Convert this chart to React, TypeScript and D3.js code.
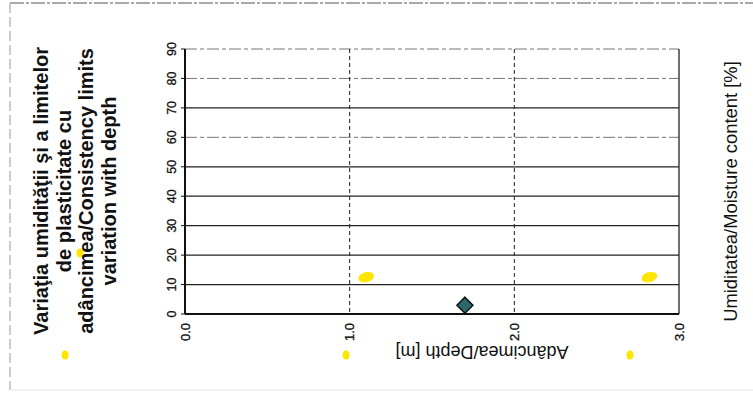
import React, { useEffect, useRef } from 'react';
import * as d3 from 'd3';

// depth [m] vs moisture content [%]
const depthTicks = [0, 1, 2, 3];
const moistureTicks = [0, 10, 20, 30, 40, 50, 60, 70, 80, 90];
const moistureDepth = [1.7];
const moistureValues = [3];
const limitDepth = [1.1, 2.82];
const limitValues = [12.5, 12.5];

const titleLines = [
  'Variaţia umidităţii şi a limitelor',
  'de plasticitate cu',
  'adâncimea/Consistency limits',
  'variation with depth',
];

export default function App() {
  const svgRef = useRef<SVGSVGElement | null>(null);

  useEffect(() => {
    if (!svgRef.current) return;
    const svg = d3.select(svgRef.current);
    svg.selectAll('*').remove();

    const width = 753;
    const height = 394;
    const margin = { top: 49, right: 74, bottom: 80, left: 185 };
    const font = 'Arial, "Liberation Sans", sans-serif';

    svg.append('rect').attr('width', width).attr('height', height).attr('fill', '#fff');

    // scanned page frame
    svg.append('line').attr('x1', 10).attr('x2', width).attr('y1', 3).attr('y2', 3)
      .attr('stroke', '#555').attr('stroke-width', 1.2).attr('stroke-dasharray', '14 2 3 2');
    svg.append('line').attr('x1', 10).attr('x2', 10).attr('y1', 3).attr('y2', 390)
      .attr('stroke', '#999').attr('stroke-width', 1).attr('stroke-dasharray', '10 4');
    svg.append('line').attr('x1', 10).attr('x2', width).attr('y1', 390).attr('y2', 390)
      .attr('stroke', '#e4e4e4').attr('stroke-width', 1);

    const x = d3.scaleLinear().domain([0, 3]).range([margin.left, width - margin.right]);
    const y = d3.scaleLinear().domain([0, 90]).range([height - margin.bottom, margin.top]);

    const faint = (d: number) => d === 90 || d === 60 || d === 80;

    // horizontal grid
    svg.selectAll('.hgrid')
      .data(moistureTicks.slice(1))
      .join('line')
      .attr('class', 'hgrid')
      .attr('x1', x(0)).attr('x2', x(3))
      .attr('y1', d => y(d)).attr('y2', d => y(d))
      .attr('stroke', d => (faint(d) ? '#666' : '#222'))
      .attr('stroke-width', d => (faint(d) ? 0.9 : 1.3))
      .attr('stroke-dasharray', d => (faint(d) ? '12 3 4 3' : null));

    // vertical grid
    svg.selectAll('.vgrid')
      .data(depthTicks.slice(1, 3))
      .join('line')
      .attr('class', 'vgrid')
      .attr('x1', d => x(d)).attr('x2', d => x(d))
      .attr('y1', y(90)).attr('y2', y(0))
      .attr('stroke', '#222').attr('stroke-width', 1).attr('stroke-dasharray', '4 3');

    // right edge and axes
    svg.append('line').attr('x1', x(3)).attr('x2', x(3)).attr('y1', y(90)).attr('y2', y(0))
      .attr('stroke', '#222').attr('stroke-width', 1.3);
    svg.append('line').attr('x1', x(0)).attr('x2', x(0)).attr('y1', y(90)).attr('y2', y(0))
      .attr('stroke', '#111').attr('stroke-width', 2);
    svg.append('line').attr('x1', x(0)).attr('x2', x(3)).attr('y1', y(0)).attr('y2', y(0))
      .attr('stroke', '#111').attr('stroke-width', 2);

    // y ticks
    svg.selectAll('.ytick')
      .data(moistureTicks)
      .join('line')
      .attr('class', 'ytick')
      .attr('x1', x(0) - 4).attr('x2', x(0))
      .attr('y1', d => y(d)).attr('y2', d => y(d))
      .attr('stroke', '#111');

    svg.selectAll('.ylabel')
      .data(moistureTicks)
      .join('text')
      .attr('class', 'ylabel')
      .attr('transform', d => `translate(${x(0) - 9},${y(d)}) rotate(-90)`)
      .attr('text-anchor', 'middle')
      .attr('font-family', font).attr('font-size', 12.5).attr('fill', '#111')
      .attr('stroke', '#111').attr('stroke-width', 0.3)
      .text(d => d);

    svg.selectAll('.xlabel')
      .data(depthTicks)
      .join('text')
      .attr('class', 'xlabel')
      .attr('transform', d => `translate(${x(d) + 4.5},${y(0) + 9}) rotate(-90)`)
      .attr('text-anchor', 'end')
      .attr('font-family', font).attr('font-size', 13).attr('fill', '#111')
      .attr('stroke', '#111').attr('stroke-width', 0.3)
      .text(d => d.toFixed(1));

    // yellow limit markers
    svg.selectAll('.limit')
      .data(limitDepth.map((d, i) => ({ d, v: limitValues[i] })))
      .join('ellipse')
      .attr('class', 'limit')
      .attr('cx', p => x(p.d)).attr('cy', p => y(p.v))
      .attr('rx', 8).attr('ry', 5)
      .attr('transform', p => `rotate(-15,${x(p.d)},${y(p.v)})`)
      .attr('fill', '#ffe600');

    // moisture content points (square diamond)
    const diamond = 'M0,-8L8,0L0,8L-8,0Z';
    svg.selectAll('.moist')
      .data(moistureDepth.map((d, i) => ({ d, v: moistureValues[i] })))
      .join('path')
      .attr('class', 'moist')
      .attr('d', diamond)
      .attr('transform', p => `translate(${x(p.d)},${y(p.v)})`)
      .attr('fill', '#2b6a6a').attr('stroke', '#111').attr('stroke-width', 1.5);

    // stray highlighter dots from the scan
    const stray = [
      { cx: 65, cy: 355 }, { cx: 346, cy: 355 }, { cx: 630, cy: 355 }, { cx: 80, cy: 253 },
    ];
    svg.selectAll('.stray')
      .data(stray)
      .join('ellipse')
      .attr('class', 'stray')
      .attr('cx', d => d.cx).attr('cy', d => d.cy)
      .attr('rx', 3.5).attr('ry', 4.5)
      .attr('fill', '#ffe600');

    // axis titles
    svg.append('text')
      .attr('transform', `translate(482,${y(0) + 32}) rotate(180)`)
      .attr('text-anchor', 'middle')
      .attr('font-family', font).attr('font-size', 18).attr('fill', '#111')
      .text('Adâncimea/Depth  [m]');

    svg.append('text')
      .attr('transform', `translate(737,${(y(0) + y(90)) / 2 + 10}) rotate(-90)`)
      .attr('text-anchor', 'middle')
      .attr('font-family', font).attr('font-size', 18.4).attr('fill', '#111')
      .text('Umiditatea/Moisture content  [%]');

    // title
    svg.append('g')
      .selectAll('text')
      .data(titleLines)
      .join('text')
      .attr('transform', (d, i) => `translate(${48 + i * 22.5},${191}) rotate(-90)`)
      .attr('text-anchor', 'middle')
      .attr('font-family', font).attr('font-size', 20).attr('font-weight', 'bold').attr('fill', '#111')
      .text(d => d);
  }, []);

  return (
    <svg
      ref={svgRef}
      width={753}
      height={394}
      style={{ position: 'absolute', left: 0, top: 0, display: 'block' }}
    />
  );
}
